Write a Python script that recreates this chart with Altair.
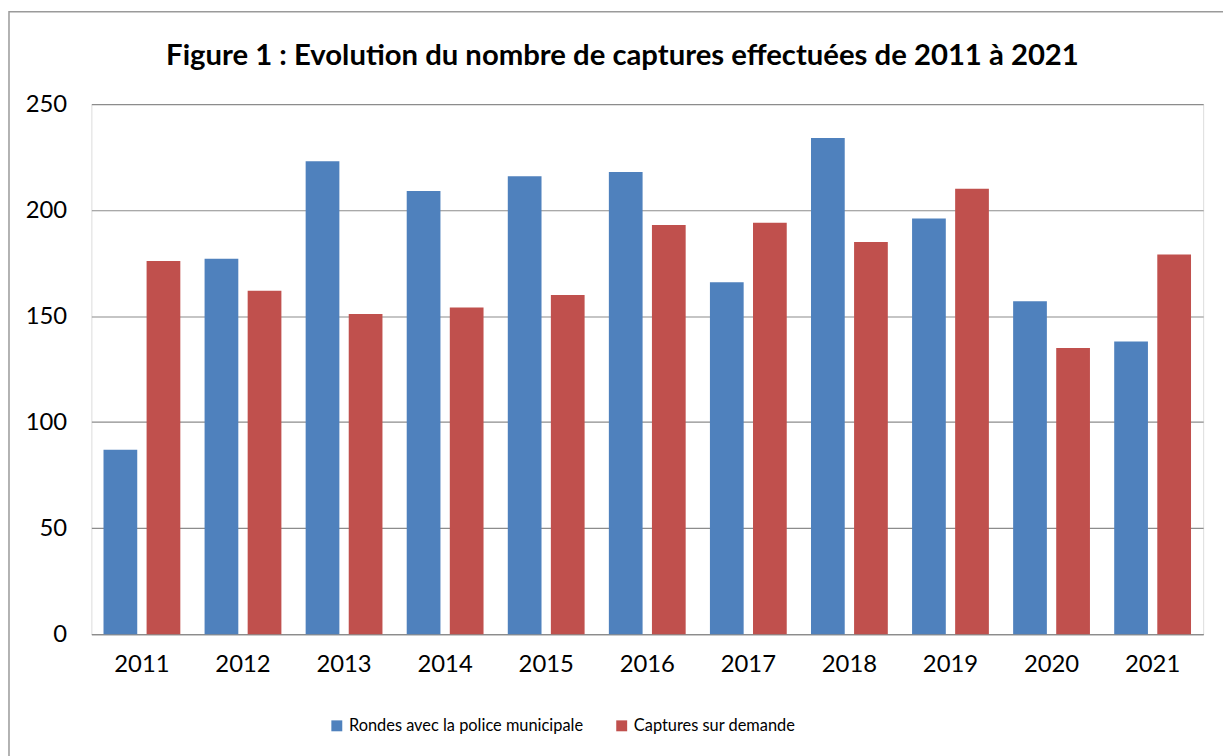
import altair as alt
import pandas as pd

years = ["2011", "2012", "2013", "2014", "2015", "2016", "2017", "2018", "2019", "2020", "2021"]
rondes = [87, 177, 223, 209, 216, 218, 166, 234, 196, 157, 138]
captures = [176, 162, 151, 154, 160, 193, 194, 185, 210, 135, 179]
series = ["Rondes avec la police municipale", "Captures sur demande"]
colors = ["#4F81BD", "#C0504D"]
title_text = "Figure 1 : Evolution du nombre de captures effectuées de 2011 à 2021"

rows = []
for i, y in enumerate(years):
    rows.append({"year": y, "series": series[0], "value": rondes[i]})
    rows.append({"year": y, "series": series[1], "value": captures[i]})
df = pd.DataFrame(rows)

FONT = "Lato"

bars = alt.Chart(df).mark_bar().encode(
    x=alt.X("year:N", sort=years, title=None,
            scale=alt.Scale(paddingInner=0.24, paddingOuter=0.12),
            axis=alt.Axis(labelAngle=0, ticks=False, domain=True, domainColor="#8c8c8c",
                          domainWidth=1.2, labelFontSize=24, labelFont=FONT,
                          labelColor="#000000", labelPadding=19)),
    xOffset=alt.XOffset("series:N", sort=series,
                        scale=alt.Scale(paddingInner=0.217, paddingOuter=0)),
    y=alt.Y("value:Q", title=None,
            scale=alt.Scale(domain=[0, 250]),
            axis=alt.Axis(values=[0, 50, 100, 150, 200, 250], ticks=False, domain=False,
                          gridColor="#8c8c8c", gridWidth=1.2, labelFontSize=24,
                          labelFont=FONT, labelColor="#000000", labelPadding=25)),
    color=alt.Color("series:N", sort=series,
                    scale=alt.Scale(domain=series, range=colors),
                    legend=alt.Legend(title=None, orient="none", direction="horizontal",
                                      legendX=239, legendY=618, symbolType="square",
                                      symbolSize=121, symbolStrokeWidth=0,
                                      labelFontSize=16.5, labelFont=FONT, labelLimit=0,
                                      labelColor="#000000", columnPadding=30,
                                      labelOffset=4)),
)

border = alt.Chart(pd.DataFrame({"a": [0]})).mark_rect(
    fill=None, stroke="#9a9a9a", strokeWidth=1.5
).encode(x=alt.value(-83), x2=alt.value(1300), y=alt.value(-93), y2=alt.value(800))

title = alt.Chart(pd.DataFrame({"t": [title_text]})).mark_text(
    font=FONT, fontSize=29.5, fontWeight="bold", color="#000000",
    align="center", baseline="alphabetic"
).encode(text="t:N", x=alt.value(535), y=alt.value(-39))

chart = alt.layer(border, bars, title).properties(
    width=1120, height=534,
    autosize=alt.AutoSizeParams(type="none"),
    padding={"left": 84, "top": 94, "right": 20, "bottom": 120},
).configure_view(stroke=None).configure(background="#ffffff")

chart.save("out.html", embed_options={"renderer": "svg", "actions": False})
